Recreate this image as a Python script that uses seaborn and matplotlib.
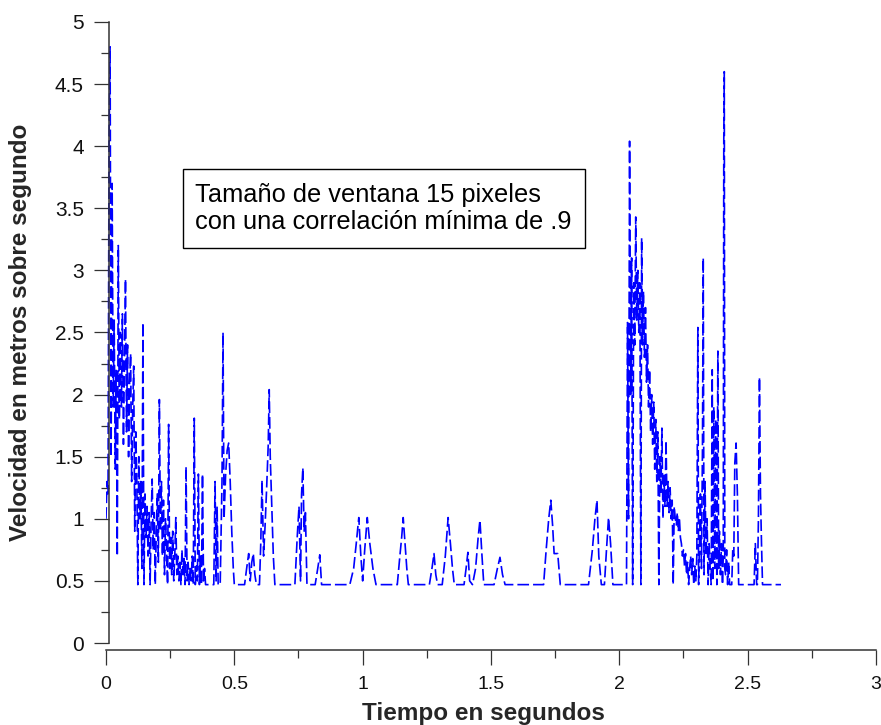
import matplotlib
matplotlib.use("Agg")
import matplotlib.pyplot as plt
from matplotlib.patches import Rectangle
from matplotlib.ticker import MultipleLocator, FuncFormatter
import seaborn as sns
import pandas as pd

# Speed samples: time (s) and velocity (m/s)
time_s = [
    0.000, 0.004, 0.008, 0.012, 0.016, 0.020, 0.024, 0.028, 0.032, 0.036,
    0.040, 0.044, 0.048, 0.052, 0.056, 0.060, 0.064, 0.068, 0.072, 0.076,
    0.080, 0.084, 0.088, 0.092, 0.096, 0.100, 0.104, 0.108, 0.112, 0.116,
    0.120, 0.124, 0.128, 0.132, 0.136, 0.140, 0.144, 0.148, 0.152, 0.156,
    0.160, 0.164, 0.168, 0.172, 0.176, 0.180, 0.184, 0.188, 0.192, 0.196,
    0.200, 0.204, 0.208, 0.212, 0.216, 0.220, 0.224, 0.228, 0.232, 0.236,
    0.240, 0.244, 0.248, 0.252, 0.256, 0.260, 0.264, 0.268, 0.272, 0.276,
    0.280, 0.284, 0.288, 0.292, 0.296, 0.300, 0.304, 0.308, 0.312, 0.316,
    0.320, 0.324, 0.328, 0.332, 0.336, 0.340, 0.344, 0.348, 0.352, 0.356,
    0.360, 0.364, 0.368, 0.372, 0.376, 0.380, 0.384, 0.388, 0.392, 0.420,
    0.425, 0.429, 0.433, 0.437, 0.445, 0.452, 0.456, 0.460, 0.466, 0.472,
    0.478, 0.484, 0.490, 0.496, 0.500, 0.540, 0.548, 0.556, 0.562, 0.568,
    0.574, 0.580, 0.586, 0.598, 0.603, 0.608, 0.614, 0.620, 0.626, 0.632,
    0.636, 0.640, 0.646, 0.652, 0.658, 0.736, 0.745, 0.752, 0.758, 0.762,
    0.767, 0.772, 0.777, 0.783, 0.815, 0.825, 0.833, 0.840, 0.950, 0.965,
    0.975, 0.985, 0.993, 1.000, 1.008, 1.018, 1.028, 1.040, 1.052, 1.135,
    1.145, 1.152, 1.158, 1.165, 1.172, 1.178, 1.260, 1.270, 1.278, 1.285,
    1.292, 1.310, 1.322, 1.333, 1.342, 1.350, 1.357, 1.395, 1.403, 1.410,
    1.417, 1.428, 1.440, 1.450, 1.457, 1.465, 1.472, 1.512, 1.525, 1.535,
    1.545, 1.555, 1.705, 1.715, 1.725, 1.733, 1.740, 1.746, 1.760, 1.770,
    1.880, 1.895, 1.905, 1.913, 1.920, 1.930, 1.942, 1.950, 1.958, 1.966,
    1.975, 2.028, 2.032, 2.036, 2.040, 2.044, 2.048, 2.052, 2.056, 2.060,
    2.064, 2.068, 2.072, 2.076, 2.080, 2.084, 2.087, 2.090, 2.094, 2.098,
    2.102, 2.106, 2.110, 2.114, 2.118, 2.122, 2.126, 2.130, 2.134, 2.138,
    2.142, 2.146, 2.150, 2.154, 2.158, 2.162, 2.166, 2.170, 2.174, 2.178,
    2.182, 2.186, 2.190, 2.194, 2.198, 2.202, 2.206, 2.210, 2.214, 2.218,
    2.222, 2.226, 2.230, 2.234, 2.238, 2.242, 2.246, 2.250, 2.254, 2.258,
    2.262, 2.266, 2.270, 2.274, 2.278, 2.282, 2.286, 2.290, 2.294, 2.298,
    2.302, 2.306, 2.309, 2.312, 2.316, 2.320, 2.324, 2.327, 2.330, 2.334,
    2.338, 2.342, 2.346, 2.350, 2.354, 2.358, 2.362, 2.365, 2.368, 2.372,
    2.376, 2.380, 2.384, 2.387, 2.390, 2.394, 2.398, 2.402, 2.405, 2.407,
    2.409, 2.411, 2.414, 2.418, 2.422, 2.426, 2.430, 2.438, 2.442, 2.446,
    2.450, 2.455, 2.460, 2.465, 2.525, 2.530, 2.535, 2.538, 2.542, 2.546,
    2.550, 2.554, 2.558, 2.562, 2.630,
]

speed_ms = [
    1.00, 1.30, 1.20, 4.05, 4.80, 1.50, 3.70, 1.90, 2.60, 1.40,
    2.20, 0.70, 3.20, 1.80, 2.50, 1.90, 2.65, 1.60, 2.30, 2.93,
    1.70, 2.40, 1.50, 2.10, 2.33, 1.30, 1.90, 2.23, 0.90, 1.70,
    1.35, 0.47, 1.50, 1.00, 1.30, 0.60, 2.58, 0.47, 1.20, 0.85,
    1.10, 0.70, 1.05, 0.47, 1.00, 1.32, 0.75, 1.05, 0.47, 0.90,
    1.20, 0.65, 1.96, 0.90, 1.30, 0.70, 1.15, 0.55, 1.00, 0.75,
    0.47, 1.76, 0.60, 0.85, 0.55, 0.90, 0.50, 0.70, 1.01, 0.55,
    0.70, 0.50, 0.65, 0.47, 0.75, 0.55, 0.68, 0.47, 1.42, 0.50,
    0.65, 0.47, 0.60, 0.50, 0.70, 0.47, 1.81, 0.47, 0.62, 0.50,
    1.36, 0.47, 0.70, 0.47, 1.36, 0.50, 0.60, 0.47, 0.47, 0.47,
    1.30, 0.50, 1.10, 0.47, 0.47, 1.30, 2.50, 1.00, 1.35, 1.55,
    1.61, 1.30, 0.90, 0.60, 0.47, 0.47, 0.60, 0.72, 0.50, 0.65,
    0.72, 0.55, 0.47, 0.47, 0.80, 1.31, 0.70, 0.95, 1.25, 1.59,
    2.04, 1.50, 1.10, 0.70, 0.47, 0.47, 0.85, 1.10, 0.50, 1.20,
    1.41, 0.90, 1.05, 0.47, 0.47, 0.60, 0.71, 0.47, 0.47, 0.60,
    0.80, 1.01, 0.70, 0.50, 0.75, 1.01, 0.80, 0.60, 0.47, 0.47,
    0.70, 0.85, 1.01, 0.80, 0.60, 0.47, 0.47, 0.60, 0.72, 0.55,
    0.47, 0.47, 0.70, 1.01, 0.80, 0.60, 0.47, 0.47, 0.60, 0.73,
    0.50, 0.47, 0.60, 0.85, 0.99, 0.70, 0.47, 0.47, 0.60, 0.69,
    0.55, 0.47, 0.47, 0.75, 1.00, 1.15, 0.95, 0.72, 0.72, 0.47,
    0.47, 0.75, 1.00, 1.15, 0.70, 0.47, 0.47, 0.75, 1.01, 0.80,
    0.47, 0.47, 2.58, 1.00, 4.04, 2.00, 3.10, 0.47, 2.90, 2.40,
    3.43, 2.60, 3.00, 2.50, 2.90, 0.47, 3.26, 2.40, 2.83, 2.30,
    2.70, 2.10, 2.40, 1.90, 2.20, 1.70, 2.00, 1.60, 1.94, 1.40,
    1.80, 1.30, 1.70, 0.47, 1.50, 1.20, 1.73, 1.00, 1.35, 1.10,
    1.63, 1.10, 1.30, 1.05, 1.25, 1.00, 1.15, 0.47, 1.10, 1.00,
    0.95, 1.05, 0.90, 1.01, 0.85, 0.80, 0.70, 0.75, 0.62, 0.72,
    0.55, 0.65, 0.47, 0.60, 0.70, 0.55, 0.68, 0.47, 0.62, 0.50,
    0.70, 2.54, 0.47, 0.80, 1.20, 0.60, 1.58, 3.10, 0.55, 1.30,
    0.70, 1.00, 0.47, 0.80, 0.60, 0.47, 2.20, 0.50, 1.90, 0.60,
    1.80, 0.47, 2.35, 0.60, 0.90, 0.55, 0.80, 0.47, 0.70, 4.03,
    4.60, 0.60, 0.55, 0.75, 0.47, 0.65, 0.47, 0.47, 0.75, 0.70,
    1.45, 1.61, 1.20, 0.47, 0.47, 0.80, 0.47, 0.47, 1.00, 2.14,
    1.20, 0.80, 0.47, 0.47, 0.47,
]

x_label = "Tiempo en segundos"
y_label = "Velocidad en metros sobre segundo"
note_lines = ["Tamaño de ventana 15 pixeles", "con una correlación mínima de .9"]

sns.set_style("ticks")
plt.rcParams["font.family"] = ["Liberation Sans", "DejaVu Sans"]

fig = plt.figure(figsize=(8.81, 7.25), dpi=100)
ax = fig.add_axes([0.1203, 0.1131, 0.8740, 0.8566])

df = pd.DataFrame({"t": time_s, "v": speed_ms})
sns.lineplot(data=df, x="t", y="v", sort=False, estimator=None,
             color="#0000ff", linewidth=1.2, ax=ax)
line = ax.lines[0]
line.set_linestyle((0, (7.0, 2.4)))

ax.set_xlim(0, 3)
ax.set_ylim(0, 5)

axis_col = "#333333"
for side in ("top", "right"):
    ax.spines[side].set_visible(False)
for side in ("left", "bottom"):
    ax.spines[side].set_color(axis_col)
    ax.spines[side].set_linewidth(1.1)
ax.spines["bottom"].set_position(("outward", 5))
ax.spines["left"].set_position(("outward", -2))

ax.xaxis.set_major_locator(MultipleLocator(0.5))
ax.xaxis.set_minor_locator(MultipleLocator(0.25))
ax.yaxis.set_major_locator(MultipleLocator(0.5))
ax.yaxis.set_minor_locator(MultipleLocator(0.25))
fmt = FuncFormatter(lambda val, pos: f"{val:g}")
ax.xaxis.set_major_formatter(fmt)
ax.yaxis.set_major_formatter(fmt)

ax.tick_params(axis="both", which="major", direction="out", length=11,
               width=0.9, color=axis_col, labelcolor="#111111")
ax.tick_params(axis="both", which="minor", direction="out", length=6,
               width=0.9, color=axis_col)
ax.tick_params(axis="y", which="major", pad=7, labelsize=15)
ax.tick_params(axis="x", which="major", pad=8, labelsize=14)

ax.set_xlabel(x_label, fontsize=17.5, fontweight="bold")
ax.set_ylabel(y_label, fontsize=17.5, fontweight="bold")
ax.xaxis.set_label_coords(0.49, -0.095)
ax.yaxis.set_label_coords(-0.096, 0.5)

# annotation box
ax.add_patch(Rectangle((0.300, 3.18), 1.566, 0.64, fill=False,
                       edgecolor="black", linewidth=1.0, zorder=5))
ax.text(0.347, 3.50, "\n".join(note_lines), ha="left", va="center",
        fontsize=18.3, linespacing=1.15, color="black", zorder=6)

fig.savefig("out.png", dpi=100, facecolor="white")
